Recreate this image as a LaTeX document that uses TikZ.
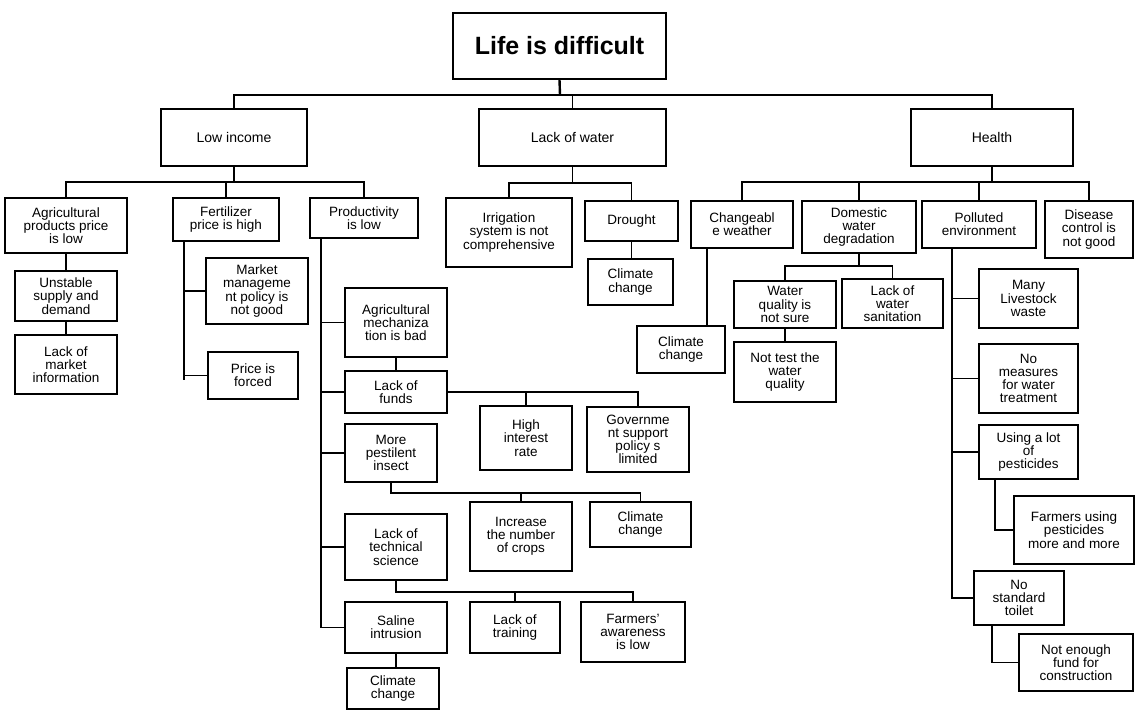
\documentclass[tikz,border=0pt]{standalone}
\usepackage{fontspec}
\setmainfont{Liberation Sans}
\usetikzlibrary{calc}

% \bx{name}{left}{top}{right}{bottom}{text}: a framed box given by its corners
\newcommand\bx[6]{\node[box,minimum width={#4-#2},minimum height={#5-#3}] (#1) at ({(#2+#4)/2},{(#3+#5)/2}) {#6};}

\begin{document}
\begin{tikzpicture}[x=1pt,y=-1pt,
  box/.style={draw, line width=1.6pt, inner sep=1pt, align=center, font=\fontsize{13.5}{13.2}\selectfont},
  link/.style={line width=1.9pt},
  stem/.style={line width=2.4pt}]
\useasboundingbox (0,0) rectangle (1136,712);

% ---- root and first level ----
\bx{life}{453}{13}{666}{79}{\fontsize{25}{28}\selectfont\bfseries Life is difficult}
\bx{li}{161}{109}{307}{166}{\fontsize{14}{15}\selectfont Low income}
\bx{lw}{479}{109}{666}{166}{\fontsize{14}{15}\selectfont Lack of water}
\bx{he}{911}{109}{1073}{166}{\fontsize{14}{15}\selectfont Health}

% ---- low income ----
\bx{app}{5}{198}{127}{253}{Agricultural\\products price\\is low}
\bx{usd}{15}{271}{117}{321}{Unstable\\supply and\\demand}
\bx{lmi}{15}{335}{117}{394}{Lack of\\market\\information}
\bx{fph}{173}{198}{279}{241}{Fertilizer\\price is high}
\bx{mmp}{206}{258}{308}{324}{Market\\manageme\\nt policy is\\not good}
\bx{pif}{208}{352}{298}{399}{Price is\\forced}
\bx{pil}{310}{198}{418}{238}{Productivity\\is low}
\bx{amb}{345}{288}{447}{357}{Agricultural\\mechaniza\\tion is bad}
\bx{lof}{345}{371}{447}{413}{Lack of\\funds}
\bx{hir}{480}{406}{572}{470}{High\\interest\\rate}
\bx{gsp}{587}{407}{689}{472}{Governme\\nt support\\policy s\\limited}
\bx{mpi}{345}{424}{437}{482}{More\\pestilent\\insect}
\bx{inc}{470}{502}{572}{571}{Increase\\the number\\of crops}
\bx{cc1}{590}{502}{691}{547}{Climate\\change}
\bx{lts}{345}{514}{447}{580}{Lack of\\technical\\science}
\bx{lot}{470}{602}{560}{653}{Lack of\\training}
\bx{fai}{581}{602}{685}{662}{Farmers'\\awareness\\is low}
\bx{sin}{345}{602}{447}{653}{Saline\\intrusion}
\bx{cc2}{347}{668}{439}{709}{Climate\\change}

% ---- lack of water ----
\bx{isc}{446}{198}{572}{267}{Irrigation\\system is not\\comprehensive}
\bx{dro}{585}{201}{678}{241}{Drought}
\bx{cc3}{588}{259}{673}{305}{Climate\\change}

% ---- health ----
\bx{cw}{691}{201}{793}{248}{Changeabl\\e weather}
\bx{cc4}{637}{326}{725}{373}{Climate\\change}
\bx{dwd}{802}{201}{916}{253}{Domestic\\water\\degradation}
\bx{wqn}{734}{281}{836}{328}{Water\\quality is\\not sure}
\bx{lws}{842}{279}{943}{328}{Lack of\\water\\sanitation}
\bx{ntw}{734}{342}{836}{402}{Not test the\\water\\quality}
\bx{pen}{922}{201}{1036}{248}{Polluted\\environment}
\bx{dcg}{1045}{201}{1133}{258}{Disease\\control is\\not good}
\bx{mlw}{979}{269}{1078}{328}{Many\\Livestock\\waste}
\bx{nmw}{979}{344}{1078}{413}{No\\measures\\for water\\treatment}
\bx{ulp}{979}{425}{1078}{479}{Using a lot\\of\\pesticides}
\bx{fup}{1014}{496}{1134}{564}{Farmers using\\pesticides\\more and more}
\bx{nst}{974}{571}{1064}{625}{No\\standard\\toilet}
\bx{nef}{1019}{634}{1133}{691}{Not enough\\fund for\\construction}

% ---- connectors: root ----
\coordinate (b0) at (560,95);
\draw[stem] (life.south) -- (b0);
\draw[link] (li.north) |- (b0) -| (he.north);
\draw[link] (lw.north) -- (lw.north |- b0);

% ---- connectors: low income ----
\coordinate (b1) at (234,182);
\draw[stem] (li.south) -- (li.south |- b1);
\draw[link] (app.north) |- (b1) -| (pil.north);
\draw[link] (fph.north) -- (fph.north |- b1);
\draw[link] (app.south) -- (usd.north);
\draw[link] (usd.south) -- (lmi.north);

\coordinate (t1) at ([xshift=12pt]fph.south west);
\draw[link] (t1) -- ++(0,138);
\draw[link] (t1 |- pif.west) -- (pif.west);
\draw[link] (t1 |- mmp.west) -- (mmp.west);

\coordinate (t2) at ([xshift=12pt]pil.south west);
\draw[link] (t2) |- (sin.west);
\foreach \n in {amb,lof,mpi,lts} \draw[link] (t2 |- \n.west) -- (\n.west);
\draw[link] (amb.south) -- (lof.north);
\draw[link] (lof.east) -| (gsp.north);
\draw[link] (hir.north) -- (hir.north |- lof.east);

\coordinate (b4) at (391,493);
\draw[link] (mpi.south) -- (mpi.south |- b4) -| (cc1.north);
\draw[link] (inc.north) -- (inc.north |- b4);

\coordinate (b5) at (396,592);
\draw[link] (lts.south) -- (lts.south |- b5) -| (fai.north);
\draw[link] (lot.north) -- (lot.north |- b5);
\draw[link] (sin.south) -- (sin.south |- cc2.north);

% ---- connectors: lack of water ----
\coordinate (b2) at (573,183);
\draw[link] (lw.south) -- (lw.south |- b2);
\draw[link] (isc.north) |- (b2) -| (dro.north);
\draw[link] (dro.south) -- (dro.south |- cc3.north);

% ---- connectors: health ----
\coordinate (b3) at (990,182);
\draw[stem] (he.south) -- (he.south |- b3);
\draw[link] (cw.north) |- (b3) -| (dcg.north);
\draw[link] (dwd.north) -- (dwd.north |- b3);
\draw[link] (pen.north) -- (pen.north |- b3);

\draw[link] ([xshift=17pt]cw.south west) -- ([xshift=17pt]cw.south west |- cc4.north);

\coordinate (b6) at (859,266);
\draw[link] (dwd.south) -- (dwd.south |- b6);
\draw[link] (wqn.north) |- (b6) -| (lws.north);
\draw[link] (wqn.south) -- (wqn.south |- ntw.north);

\coordinate (t3) at ([xshift=31pt]pen.south west);
\draw[link] (t3) |- (nst.west);
\foreach \n in {mlw,nmw,ulp} \draw[link] (t3 |- \n.west) -- (\n.west);
\draw[link] ([xshift=17pt]ulp.south west) |- (fup.west);
\draw[link] ([xshift=19pt]nst.south west) |- (nef.west);
\end{tikzpicture}
\end{document}
